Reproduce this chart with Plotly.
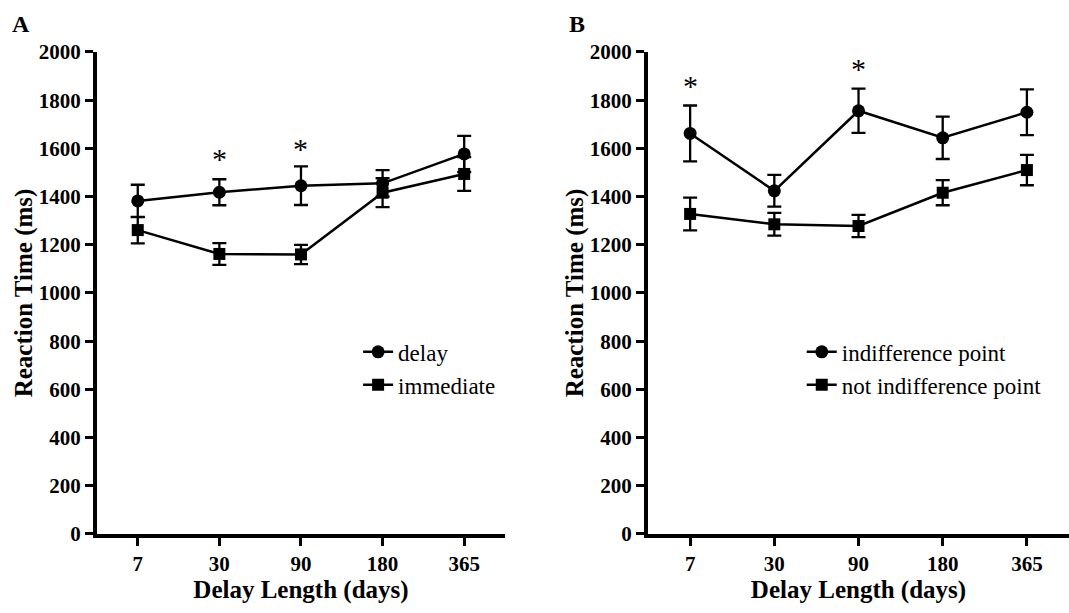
import plotly.graph_objects as go

categories = ["7", "30", "90", "180", "365"]

# Panel A
delay_mean = [1382, 1418, 1445, 1455, 1577]
delay_err = [67, 54, 80, 55, 75]
immediate_mean = [1261, 1162, 1160, 1416, 1494]
immediate_err = [55, 45, 40, 60, 70]
starsA_x = ["30", "90"]
starsA_y = [1560, 1600]

# Panel B
indiff_mean = [1662, 1424, 1756, 1644, 1750]
indiff_err = [116, 66, 92, 88, 95]
notindiff_mean = [1328, 1285, 1278, 1416, 1510]
notindiff_err = [68, 47, 46, 52, 63]
starsB_x = ["7", "90"]
starsB_y = [1860, 1932]

yticks = [0, 200, 400, 600, 800, 1000, 1200, 1400, 1600, 1800, 2000]

FONT = "Liberation Serif"

fig = go.Figure()

def add_series(x, y, err, name, symbol, size, xa, ya, legend):
    fig.add_trace(go.Scatter(
        x=x, y=y, name=name, mode="lines+markers",
        line=dict(color="black", width=2.5),
        marker=dict(symbol=symbol, size=size, color="black"),
        error_y=dict(type="data", array=err, visible=True, color="black", thickness=2.3, width=7),
        xaxis=xa, yaxis=ya, legend=legend,
    ))

add_series(categories, delay_mean, delay_err, "delay", "circle", 13, "x", "y", "legend")
add_series(categories, immediate_mean, immediate_err, "immediate", "square", 12, "x", "y", "legend")
add_series(categories, indiff_mean, indiff_err, "indifference point", "circle", 13, "x2", "y2", "legend2")
add_series(categories, notindiff_mean, notindiff_err, "not indifference point", "square", 12, "x2", "y2", "legend2")

axis_common = dict(
    showline=True, linecolor="black", linewidth=4, showgrid=False, zeroline=False,
    ticks="outside", tickwidth=3, ticklen=8, tickcolor="black", automargin=False,
    tickfont=dict(family=FONT, size=21, color="black", weight="bold"),
)

xcommon = dict(axis_common, type="category", range=[-0.5, 4.5],
               title=dict(text="<b>Delay Length (days)</b>", font=dict(family=FONT, size=25, color="black"), standoff=6))
ycommon = dict(axis_common, range=[0, 2000], tickvals=yticks,
               title=dict(text="<b>Reaction Time (ms)</b>", font=dict(family=FONT, size=25, color="black"), standoff=0))

fig.update_layout(
    width=1069, height=613,
    margin=dict(l=0, r=0, t=0, b=0, autoexpand=False),
    paper_bgcolor="white", plot_bgcolor="white",
    font=dict(family=FONT, color="black"),
    xaxis=dict(xcommon, domain=[0.0907, 0.4724], anchor="y"),
    yaxis=dict(ycommon, domain=[0.1289, 0.9152], anchor="x"),
    xaxis2=dict(xcommon, domain=[0.6062, 1.0], anchor="y2"),
    yaxis2=dict(ycommon, domain=[0.1289, 0.9152], anchor="x2"),
    legend=dict(x=0.335, y=0.399, xanchor="left", yanchor="middle", bgcolor="rgba(0,0,0,0)",
                font=dict(family=FONT, size=23, color="black"), tracegroupgap=0, itemwidth=30),
    legend2=dict(x=0.750, y=0.399, xanchor="left", yanchor="middle", bgcolor="rgba(0,0,0,0)",
                 font=dict(family=FONT, size=23, color="black"), tracegroupgap=0, itemwidth=30),
    showlegend=True,
)

for sx, sy in zip(starsA_x, starsA_y):
    fig.add_annotation(x=categories.index(sx), y=sy, xref="x", yref="y", text="*", showarrow=False,
                       font=dict(family=FONT, size=30, color="black"))
for sx, sy in zip(starsB_x, starsB_y):
    fig.add_annotation(x=categories.index(sx), y=sy, xref="x2", yref="y2", text="*", showarrow=False,
                       font=dict(family=FONT, size=30, color="black"))

fig.add_annotation(x=0.009, y=0.985, xref="paper", yref="paper", text="<b>A</b>", showarrow=False,
                   xanchor="left", yanchor="top", font=dict(family=FONT, size=24, color="black"))
fig.add_annotation(x=0.530, y=0.985, xref="paper", yref="paper", text="<b>B</b>", showarrow=False,
                   xanchor="left", yanchor="top", font=dict(family=FONT, size=24, color="black"))

fig.write_html("out.html")
